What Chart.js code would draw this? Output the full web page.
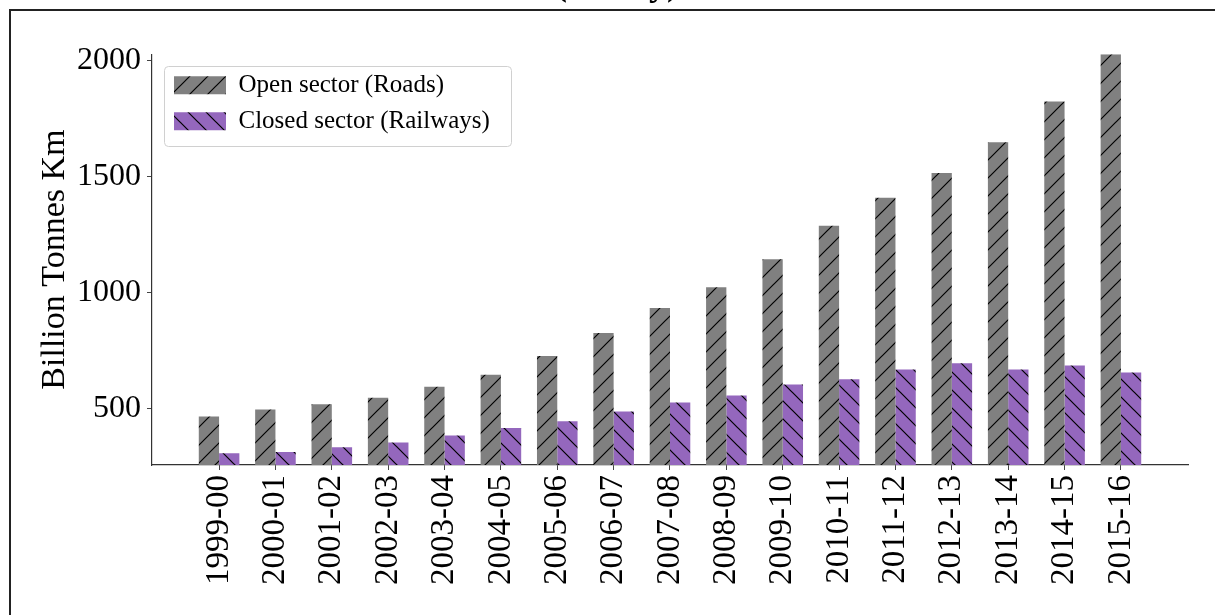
<!DOCTYPE html>
<html>
<head>
<meta charset="utf-8">
<script src="https://cdn.jsdelivr.net/npm/chart.js@4.4.0/dist/chart.umd.min.js"></script>
<style>
html,body{margin:0;padding:0;background:#fff;overflow:hidden;width:1215px;height:615px;}
#wrap{position:absolute;left:0;top:-40px;width:1215px;height:655px;}
</style>
</head>
<body>
<div id="wrap"><canvas id="c" width="1215" height="655"></canvas></div>
<script>
// ---- data ----
const categories = ['1999-00','2000-01','2001-02','2002-03','2003-04','2004-05','2005-06','2006-07','2007-08','2008-09','2009-10','2010-11','2011-12','2012-13','2013-14','2014-15','2015-16'];
const roads = [467, 497, 520, 548, 595, 647, 728, 827, 934, 1024, 1144, 1289, 1409, 1516, 1649, 1824, 2028];
const railways = [309, 314, 334, 355, 385, 417, 446, 489, 527, 557, 605, 627, 670, 696, 670, 687, 657];
const yTickValues = [500, 1000, 1500, 2000];
const seriesNames = ['Open sector (Roads)', 'Closed sector (Railways)'];
const titleText = '(Yearly)';
const yTitle = 'Billion Tonnes Km';

const FONT = "'Liberation Serif', 'Times New Roman', serif";

function hatch(base, dir) {
  const s = 18;
  const c = document.createElement('canvas');
  c.width = s; c.height = s;
  const g = c.getContext('2d');
  g.fillStyle = base;
  g.fillRect(0, 0, s, s);
  g.strokeStyle = '#000';
  g.lineWidth = 1.2;
  g.beginPath();
  if (dir === '/') {
    g.moveTo(-2, s + 2); g.lineTo(s + 2, -2);
    g.moveTo(-2, 2); g.lineTo(2, -2);
    g.moveTo(s - 2, s + 2); g.lineTo(s + 2, s - 2);
  } else {
    g.moveTo(-2, -2); g.lineTo(s + 2, s + 2);
    g.moveTo(s - 2, -2); g.lineTo(s + 2, 2);
    g.moveTo(-2, s - 2); g.lineTo(2, s + 2);
  }
  g.stroke();
  return g.createPattern(c, 'repeat');
}

const ctx = document.getElementById('c').getContext('2d');
const roadsFill = hatch('#808080', '/');
const railFill = hatch('#9467bd', '\\');

const framePlugin = {
  id: 'framePlugin',
  afterLayout(chart) {
    const lg = chart.legend;
    const ca = chart.chartArea;
    if (lg) {
      const h = lg.height;
      lg.left = ca.left + 11;
      lg.top = ca.top + 7.5;
      lg.bottom = lg.top + h;
    }
  },
  afterDraw(chart) {
    const c = chart.ctx;
    c.save();
    // legend frame
    c.strokeStyle = '#d0d0d0';
    c.lineWidth = 1;
    c.beginPath();
    c.roundRect(164.5, 106.5, 347, 80, 4);
    c.stroke();
    // figure frame
    c.fillStyle = '#222';
    c.fillRect(9, 49, chart.width - 9, 2);
    c.fillRect(9, 49, 2, chart.height - 49);
    c.restore();
  }
};

new Chart(ctx, {
  type: 'bar',
  data: {
    datasets: [
      {
        label: seriesNames[0],
        data: categories.map((c, i) => ({x: i, y: roads[i]})),
        backgroundColor: roadsFill,
        borderWidth: 0
      },
      {
        label: seriesNames[1],
        data: categories.map((c, i) => ({x: i, y: railways[i]})),
        backgroundColor: railFill,
        borderWidth: 0
      }
    ]
  },
  options: {
    responsive: false,
    animation: false,
    events: [],
    categoryPercentage: 0.72,
    barPercentage: 1.0,
    layout: { padding: { left: 46, right: 27, top: 0, bottom: 0 } },
    plugins: {
      title: {
        display: true,
        text: titleText,
        color: '#000',
        font: { family: FONT, size: 36, weight: 'bold' },
        padding: { top: 4, bottom: 47 }
      },
      legend: {
        display: true,
        position: 'chartArea',
        align: 'start',
        labels: {
          boxWidth: 52,
          boxHeight: 18,
          padding: 11,
          color: '#000',
          font: { family: FONT, size: 25 }
        }
      },
      tooltip: { enabled: false }
    },
    scales: {
      x: {
        type: 'linear',
        min: -1.19,
        max: 17.19,
        offset: false,
        grid: { display: true, offset: false, drawOnChartArea: false, drawTicks: true, tickLength: 5, color: '#444' },
        border: { display: true, color: '#333', width: 1.2 },
        afterBuildTicks(scale) { scale.ticks = categories.map((c, i) => ({ value: i })); },
        afterFit(scale) { scale.height = 150; },
        ticks: {
          autoSkip: false,
          minRotation: 90,
          maxRotation: 90,
          padding: 5,
          color: '#000',
          font: { family: FONT, size: 33 },
          callback: (v) => categories[v]
        }
      },
      y: {
        type: 'linear',
        min: 258,
        max: 2028,
        grid: { display: true, drawOnChartArea: false, drawTicks: true, tickLength: 5, color: '#444' },
        border: { display: true, color: '#333', width: 1.2 },
        afterBuildTicks(scale) { scale.ticks = yTickValues.map(v => ({ value: v })); },
        afterFit(scale) { scale.width = 106; },
        title: {
          display: true,
          text: yTitle,
          color: '#000',
          font: { family: FONT, size: 34 },
          padding: { top: -11, bottom: 0 }
        },
        ticks: {
          padding: 6,
          color: '#000',
          font: { family: FONT, size: 32 },
          callback: (v) => String(v)
        }
      }
    }
  },
  plugins: [framePlugin]
});
</script>
</body>
</html>
